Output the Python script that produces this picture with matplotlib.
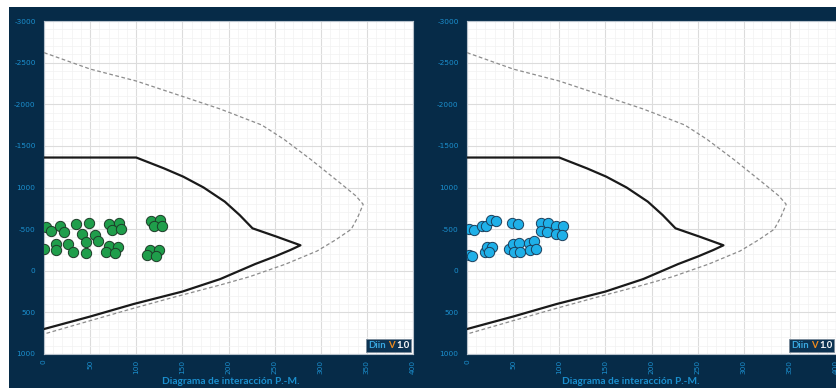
import numpy as np
import matplotlib
matplotlib.use("Agg")
import matplotlib.pyplot as plt
from matplotlib.patches import Rectangle
from matplotlib.ticker import MultipleLocator

# interaction diagram: design curve (solid) and nominal curve (dashed), M in x, P in y
design_m = [0, 100, 130, 151, 173, 196, 212, 226, 252, 278, 267, 250, 229, 191, 150, 97, 50, 0]
design_p = [-1360, -1360, -1230, -1130, -1000, -830, -670, -510, -410, -306, -249, -170, -81, 100, 250, 400, 550, 700]
nominal_m = [0, 50, 100, 151, 191, 236, 260, 290, 321, 338, 346, 340, 333, 316, 296, 262, 223, 191, 140, 97, 50, 0]
nominal_p = [-2620, -2423, -2279, -2091, -1943, -1751, -1580, -1330, -1054, -900, -798, -640, -498, -370,
             -237, -80, 71, 171, 320, 451, 600, 760]

# load combinations, left chart
left_m = [2, 8, 17, 22, 35, 49, 41, 55, 46, 59, 71, 81, 74, 84,
          0, 13, 13, 26, 31, 45, 70, 80, 67, 77,
          116, 126, 119, 128, 115, 125, 112, 121]
left_p = [-529, -477, -541, -462, -558, -570, -445, -433, -341, -353, -558, -570, -490, -501,
          -257, -318, -246, -325, -229, -217, -294, -282, -225, -213,
          -601, -610, -534, -541, -249, -249, -186, -174]

# load combinations, right chart
right_m = [2.5, 8, 16, 21, 26, 31, 49, 55, 80, 88, 97, 104, 80, 87, 97, 103,
           2, 5, 19, 22, 27, 24, 46, 50, 56, 51, 57, 67, 73, 68, 75]
right_p = [-502, -486, -538, -534, -610, -598, -570, -562, -570, -570, -541, -534, -474, -462, -445, -430,
           -189, -177, -221, -289, -285, -225, -258, -318, -330, -221, -229, -337, -354, -249, -261]

y_ticks = [-3000, -2500, -2000, -1500, -1000, -500, 0, 500, 1000]
y_labels = ["-3000", "-2500", "-2000", "-1500", "1000", "-500", "0", "500", "1000"]
x_ticks = [0, 50, 100, 150, 200, 250, 300, 350, 400]

navy = "#062b48"
label_blue = "#1b8fce"
W, H = 836, 388

fig = plt.figure(figsize=(W / 100, H / 100), dpi=100, facecolor=navy)
# white margins along the top and the left edge
fig.patches.append(Rectangle((0, 1 - 7 / H), 1, 7 / H, transform=fig.transFigure,
                             facecolor="white", edgecolor="none"))
fig.patches.append(Rectangle((0, 0), 9 / W, 1, transform=fig.transFigure,
                             facecolor="white", edgecolor="none"))


def badge(x_right):
    # small "Diin V 1.0" tag in the lower right corner of a chart
    x0 = x_right - 45
    fig.patches.append(Rectangle((x0 / W, 1 - 352 / H), 45 / W, 13 / H, transform=fig.transFigure,
                                 facecolor="#0d3352", edgecolor="#7a8a99", lw=0.6, zorder=5))
    y = 1 - 345.5 / H
    kw = dict(fontsize=6.8, fontweight="bold", family="Lato", va="center", ha="left", zorder=6)
    fig.text((x0 + 2) / W, y, "Diin", color="#3aa8e0", **kw)
    fig.text((x0 + 22) / W, y, "V", color="#f08c1e", **kw)
    fig.text((x0 + 30) / W, y, "1.0", color="white", **kw)


def draw_panel(left_px, pts_m, pts_p, color, edge, title_x):
    ax = fig.add_axes([left_px / W, 1 - 354 / H, 369 / W, 333 / H])
    ax.set_facecolor("white")
    ax.set_xlim(0, 400)
    ax.set_ylim(1000, -3000)
    ax.xaxis.set_minor_locator(MultipleLocator(10))
    ax.yaxis.set_minor_locator(MultipleLocator(100))
    ax.set_xticks(x_ticks)
    ax.set_yticks(y_ticks)
    ax.set_yticklabels(y_labels)
    ax.grid(which="major", color="#dcdcdc", lw=0.8)
    ax.grid(which="minor", color="#f2f2f2", lw=0.5)
    ax.set_axisbelow(True)
    ax.tick_params(which="both", length=0)
    ax.tick_params(axis="y", labelsize=5.3, labelcolor=label_blue, pad=6)
    ax.tick_params(axis="x", labelsize=5.3, labelcolor=label_blue, pad=4, labelrotation=90)
    for s in ax.spines.values():
        s.set_color("#b8c2cc")
        s.set_linewidth(0.8)

    ax.plot(nominal_m, nominal_p, color="#8c8c8c", lw=0.9, ls=(0, (3, 2)), zorder=3)
    ax.plot(design_m, design_p, color="#1a1a1a", lw=1.6, zorder=3)
    ax.scatter(pts_m, pts_p, s=55, color=color, edgecolors=edge, linewidths=0.7, zorder=4)

    fig.text(title_x / W, 1 - 381 / H, "Diagrama de interacción P.-M.", color=label_blue,
             fontsize=7.3, fontweight="bold", family="Lato", ha="center", va="center")
    return ax


draw_panel(44, left_m, left_p, "#1f9e4b", "#1d3b28", 231)
badge(411)
draw_panel(467, right_m, right_p, "#1fb0e8", "#1b3f5c", 631)
badge(834)

fig.savefig("out.png", dpi=100, facecolor=fig.get_facecolor())
